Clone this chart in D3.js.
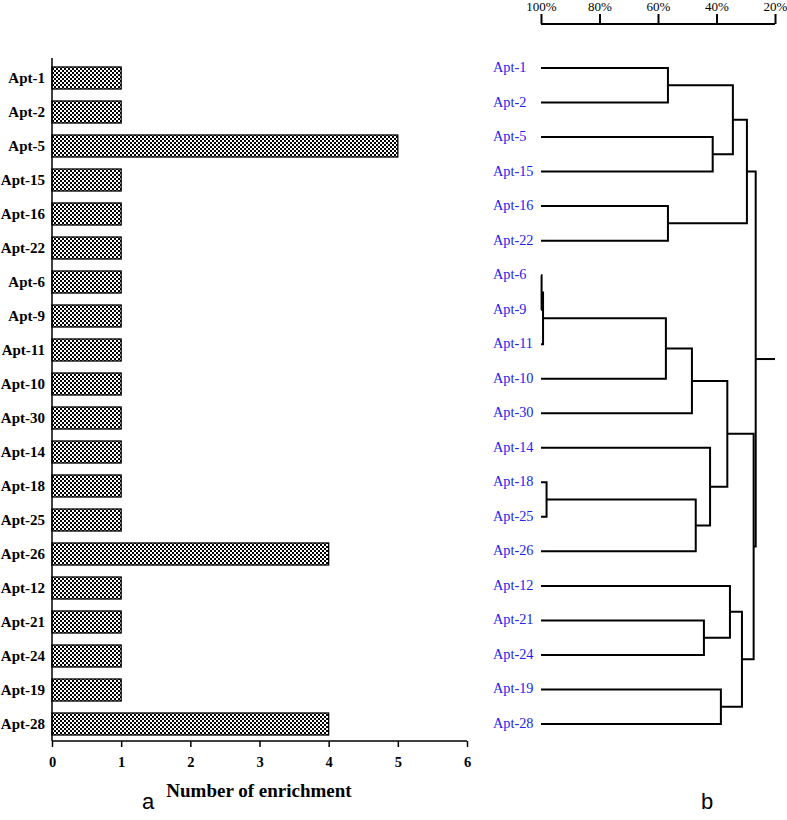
<!DOCTYPE html>
<html><head><meta charset="utf-8">
<script src="https://cdn.jsdelivr.net/npm/d3@7"></script>
<style>body{margin:0;background:#fff}svg{display:block}</style>
</head><body><svg id="c" width="787" height="820"></svg>
<script>
const categories = ["Apt-1","Apt-2","Apt-5","Apt-15","Apt-16","Apt-22","Apt-6","Apt-9","Apt-11","Apt-10","Apt-30","Apt-14","Apt-18","Apt-25","Apt-26","Apt-12","Apt-21","Apt-24","Apt-19","Apt-28"];
const enrichment = [1,1,5,1,1,1,1,1,1,1,1,1,1,1,4,1,1,1,1,4];
const xTicks = [0,1,2,3,4,5,6];
const simTicks = [100,80,60,40,20];
const simTickLabels = ["100%","80%","60%","40%","20%"];
// dendrogram merges: [child A, child B, similarity %]; merge i is referred to as "n"+i
const merges = [
  ["Apt-1","Apt-2",56.6],
  ["Apt-5","Apt-15",41.3],
  ["n0","n1",34.4],
  ["Apt-16","Apt-22",56.6],
  ["n2","n3",29.6],
  ["Apt-6","Apt-9",99.8],
  ["n5","Apt-11",99.3],
  ["n6","Apt-10",57.3],
  ["n7","Apt-30",48.4],
  ["Apt-18","Apt-25",98.1],
  ["n9","Apt-26",47.1],
  ["Apt-14","n10",42.2],
  ["n8","n11",36.3],
  ["Apt-21","Apt-24",44.3],
  ["Apt-12","n13",35.4],
  ["Apt-19","Apt-28",38.5],
  ["n14","n15",31.3],
  ["n12","n16",27.3],
  ["n4","n17",26.6]
];
const rootStubTo = 20;

const svg = d3.select("#c");
const serif = "'Liberation Serif','Times New Roman',serif";

// ---------- Panel a: bar chart ----------
const defs = svg.append("defs");
const pat = defs.append("pattern").attr("id","chk").attr("patternUnits","userSpaceOnUse")
  .attr("width",4).attr("height",4);
pat.append("rect").attr("width",4).attr("height",4).attr("fill","#fff");
pat.append("rect").attr("x",0).attr("y",0).attr("width",2).attr("height",2).attr("fill","#000");
pat.append("rect").attr("x",2).attr("y",2).attr("width",2).attr("height",2).attr("fill","#000");

const x = d3.scaleLinear().domain([0,6]).range([52,467]);
const y = d3.scaleBand().domain(categories).range([61,741]).paddingInner(0.353).paddingOuter(0.1765);

const ga = svg.append("g");
ga.selectAll("rect.bar").data(categories).join("rect").attr("class","bar")
  .attr("x",x(0)).attr("y",d=>y(d))
  .attr("width",(d,i)=>x(enrichment[i])-x(0)).attr("height",y.bandwidth())
  .attr("fill","url(#chk)").attr("stroke","#000").attr("stroke-width",1.3);

ga.append("line").attr("x1",x(0)).attr("x2",x(0)).attr("y1",58).attr("y2",741)
  .attr("stroke","#000").attr("stroke-width",1.5);
ga.selectAll("text.cat").data(categories).join("text").attr("class","cat")
  .attr("x",45).attr("y",d=>y(d)+y.bandwidth()/2).attr("dy","0.33em")
  .attr("text-anchor","end").attr("font-family",serif).attr("font-weight","bold")
  .attr("font-size",15).text(d=>d);

const xAxis = d3.axisBottom(x).tickValues(xTicks).tickSize(6).tickFormat(d3.format("d"));
const gx = ga.append("g").attr("transform","translate(0,741)").call(xAxis);
gx.select(".domain").attr("stroke","#000").attr("stroke-width",1.5).attr("d","M52,0H467");
gx.selectAll(".tick line").attr("stroke","#000").attr("stroke-width",1.5);
gx.selectAll(".tick text").attr("font-family",serif).attr("font-weight","bold")
  .attr("font-size",14.5).attr("fill","#000").attr("y",26).attr("dy","0");

ga.append("text").attr("x",259).attr("y",797).attr("text-anchor","middle")
  .attr("font-family",serif).attr("font-weight","bold").attr("font-size",19)
  .text("Number of enrichment");
ga.append("text").attr("x",148).attr("y",809).attr("text-anchor","middle")
  .attr("font-family","'Liberation Sans',Arial,sans-serif").attr("font-size",22).text("a");

// ---------- Panel b: dendrogram ----------
const sx = d3.scaleLinear().domain([100,20]).range([541,775]);
const sy = d3.scalePoint().domain(categories).range([68,724]);

const gb = svg.append("g");
const topAxis = d3.axisTop(sx).tickValues(simTicks).tickSize(10).tickFormat((d,i)=>simTickLabels[i]);
const gt = gb.append("g").attr("transform","translate(0,24)").call(topAxis);
gt.select(".domain").attr("d","M541,0H775").attr("stroke","#000").attr("stroke-width",2);
gt.selectAll(".tick line").attr("stroke","#000").attr("stroke-width",2);
gt.selectAll(".tick text").attr("font-family",serif).attr("font-size",13).attr("fill","#000")
  .attr("y",-13).attr("dy","0");

const nodes = {};
categories.forEach(c => nodes[c] = {x: sx(100), y: sy(c)});
const paths = [];
merges.forEach((m,i) => {
  const a = nodes[m[0]], b = nodes[m[1]];
  const nx = sx(m[2]);
  nodes["n"+i] = {x: nx, y: (a.y+b.y)/2};
  paths.push(`M${a.x},${a.y}H${nx}V${b.y}H${b.x}`);
});
const root = nodes["n"+(merges.length-1)];
paths.push(`M${root.x},${root.y}H${sx(rootStubTo)}`);

gb.selectAll("path.link").data(paths).join("path").attr("class","link")
  .attr("d",d=>d).attr("fill","none").attr("stroke","#000").attr("stroke-width",2);

gb.selectAll("text.leaf").data(categories).join("text").attr("class","leaf")
  .attr("x",493).attr("y",d=>sy(d)).attr("dy","0.28em")
  .attr("font-family",serif).attr("font-size",14.3).attr("fill","#2222ee").text(d=>d);

gb.append("text").attr("x",707).attr("y",809).attr("text-anchor","middle")
  .attr("font-family","'Liberation Sans',Arial,sans-serif").attr("font-size",22).text("b");
</script></body></html>
